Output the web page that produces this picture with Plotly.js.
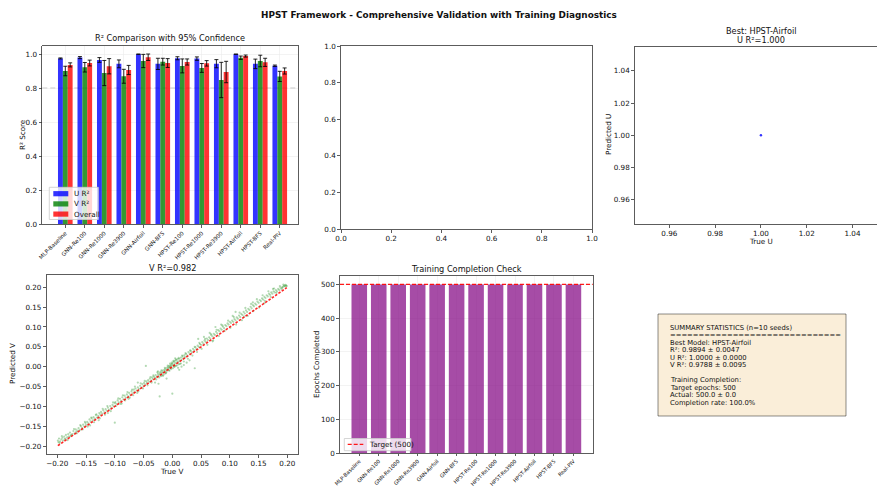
<!DOCTYPE html>
<html>
<head>
<meta charset="utf-8">
<script src="https://cdn.plot.ly/plotly-3.0.1.min.js"></script>
<style>html,body{margin:0;padding:0;background:#fff;}#chart{width:877px;height:486px;}</style>
</head>
<body>
<div id="chart"></div>
<script>
// ---------------- DATA ----------------
const categories = ['MLP-Baseline','GNN-Re100','GNN-Re1000','GNN-Re3900','GNN-Airfoil','GNN-BFS','HPST-Re100','HPST-Re1000','HPST-Re3900','HPST-Airfoil','HPST-BFS','Real-PIV'];
const uR2       = [0.975,0.980,0.966,0.943,1.000,0.943,0.976,0.974,0.944,1.000,0.943,0.932];
const uErr      = [0.003,0.006,0.014,0.023,0.001,0.033,0.009,0.010,0.024,0.000,0.028,0.004];
const vR2       = [0.901,0.923,0.889,0.870,0.960,0.956,0.931,0.919,0.848,0.979,0.960,0.869];
const vErr      = [0.028,0.028,0.074,0.041,0.039,0.020,0.041,0.026,0.104,0.010,0.034,0.030];
const overallR2 = [0.937,0.948,0.929,0.907,0.982,0.948,0.954,0.946,0.895,0.989,0.952,0.901];
const overallErr= [0.012,0.017,0.045,0.027,0.019,0.026,0.018,0.016,0.063,0.006,0.024,0.018];
const r2Threshold = 0.8;
const r2SeriesNames = ['U R²', 'V R²', 'Overall'];

const epochsCompleted = [500,500,500,500,500,500,500,500,500,500,500,500];
const targetEpochs = 500;

const bestTrueU = [1.0];
const bestPredU = [1.0];

const trueV = [
-0.199,-0.198,-0.197,-0.195,-0.193,-0.191,-0.190,-0.188,-0.186,-0.185,-0.183,-0.181,-0.180,-0.178,-0.176,-0.174,-0.172,-0.170,-0.168,-0.167,-0.165,-0.163,-0.161,-0.159,-0.157,-0.155,-0.153,-0.151,-0.150,
-0.148,-0.146,-0.144,-0.142,-0.140,-0.138,-0.137,-0.135,-0.133,-0.131,-0.129,-0.127,-0.125,-0.124,-0.122,-0.120,-0.118,-0.116,-0.114,-0.112,-0.110,-0.108,-0.106,-0.104,-0.102,-0.100,-0.128,-0.112,-0.143,-0.100,
-0.099,-0.097,-0.095,-0.093,-0.091,-0.089,-0.087,-0.085,-0.083,-0.081,-0.079,-0.077,-0.075,-0.073,-0.071,-0.069,-0.067,-0.066,-0.064,-0.062,-0.060,-0.058,-0.056,-0.054,-0.052,-0.050,-0.076,-0.061,-0.088,
-0.049,-0.047,-0.045,-0.044,-0.042,-0.040,-0.039,-0.037,-0.035,-0.034,-0.032,-0.030,-0.029,-0.027,-0.025,-0.024,-0.022,-0.021,-0.020,-0.018,-0.017,-0.016,-0.014,-0.013,-0.012,-0.010,-0.009,-0.008,-0.007,-0.006,-0.005,-0.004,-0.003,-0.002,-0.001,-0.020,-0.015,-0.010,-0.025,-0.018,-0.046,-0.022,-0.030,-0.012,-0.006,-0.003,
0.000,0.001,0.002,0.003,0.004,0.005,0.006,0.007,0.008,0.009,0.010,0.011,0.012,0.013,0.015,0.016,0.018,0.019,0.021,0.022,0.024,0.026,0.028,0.030,0.032,0.034,0.036,0.038,0.040,0.042,0.044,0.046,0.048,0.050,0.000,0.010,0.020,0.030,0.005,0.003,0.015,0.039,
0.052,0.054,0.056,0.058,0.060,0.062,0.064,0.066,0.068,0.070,0.072,0.074,0.076,0.078,0.080,0.082,0.084,0.086,0.088,0.090,0.092,0.094,0.096,0.098,0.100,0.055,0.070,0.085,0.065,
0.102,0.104,0.106,0.108,0.110,0.112,0.114,0.116,0.118,0.120,0.122,0.124,0.126,0.128,0.130,0.132,0.134,0.136,0.138,0.140,0.142,0.144,0.146,0.148,0.150,0.105,0.125,0.140,
0.152,0.154,0.156,0.158,0.160,0.162,0.164,0.166,0.168,0.170,0.172,0.174,0.176,0.178,0.180,0.182,0.184,0.186,0.188,0.190,0.192,0.194,0.195,0.196,0.197,0.198,0.199,0.160,0.175,
-0.196,-0.192,-0.187,-0.182,-0.177,-0.171,-0.166,-0.160,-0.156,-0.152,-0.147,-0.141,-0.136,-0.132,-0.126,-0.121,-0.117,-0.113,-0.107,-0.103,-0.098,-0.094,-0.090,-0.086,-0.082,-0.078,-0.074,-0.070,-0.068,-0.065,
-0.059,-0.055,-0.051,-0.048,-0.043,-0.038,-0.036,-0.033,-0.028,-0.026,-0.023,-0.019,-0.016,-0.013,-0.011,-0.008,-0.005,-0.004,-0.002,-0.001,0.001,0.002,0.004,0.006,0.008,0.011,0.013,0.017,0.020,0.023,
0.027,0.031,0.035,0.039,0.043,0.047,0.051,0.057,0.061,0.067,0.071,0.077,0.081,0.087,0.091,0.097,0.101,0.107,0.111,0.117,0.121,0.127,0.131,0.137,0.141,0.147,0.151,0.157,0.161,0.167,
0.171,0.177,0.181,0.187,0.191,0.193,-0.024,-0.010,0.016,0.025,0.012,-0.060,0.045,0.110,0.075
];
const predV = [
-0.186,-0.190,-0.181,-0.188,-0.183,-0.179,-0.186,-0.176,-0.181,-0.172,-0.178,-0.170,-0.176,-0.166,-0.172,-0.170,-0.162,-0.168,-0.158,-0.164,-0.161,-0.155,-0.160,-0.150,-0.154,-0.146,-0.151,-0.142,-0.147,
-0.139,-0.143,-0.133,-0.138,-0.130,-0.135,-0.127,-0.131,-0.122,-0.128,-0.124,-0.117,-0.121,-0.114,-0.118,-0.110,-0.115,-0.107,-0.111,-0.103,-0.108,-0.099,-0.104,-0.096,-0.100,-0.092,-0.135,-0.117,-0.148,-0.141,
-0.089,-0.094,-0.085,-0.090,-0.081,-0.086,-0.077,-0.082,-0.073,-0.078,-0.070,-0.075,-0.066,-0.071,-0.062,-0.067,-0.058,-0.064,-0.055,-0.060,-0.052,-0.056,-0.048,-0.053,-0.044,-0.049,-0.081,-0.066,-0.093,
-0.041,-0.045,-0.037,-0.041,-0.034,-0.038,-0.030,-0.035,-0.027,-0.031,-0.025,-0.028,-0.021,-0.025,-0.018,-0.022,-0.015,-0.019,-0.013,-0.016,-0.010,-0.014,-0.008,-0.011,-0.005,-0.008,-0.002,-0.006,0.000,-0.003,0.002,-0.001,0.004,0.001,0.006,-0.024,-0.020,-0.013,-0.012,-0.022,0.002,-0.075,-0.040,-0.017,-0.009,-0.004,
0.008,0.003,0.012,0.005,0.014,0.009,0.002,0.016,0.010,0.019,0.013,0.006,0.020,0.015,0.023,0.017,0.026,0.021,0.029,0.024,0.032,0.028,0.037,0.033,0.040,0.036,0.045,0.041,0.049,0.045,0.053,0.050,0.057,0.055,-0.068,-0.003,0.004,0.016,0.021,0.000,0.008,-0.004,
0.062,0.058,0.066,0.063,0.071,0.067,0.074,0.071,0.079,0.076,0.083,0.080,0.088,0.084,0.092,0.089,0.096,0.093,0.101,0.097,0.105,0.102,0.109,0.106,0.113,0.075,0.064,0.106,0.085,
0.110,0.116,0.113,0.120,0.117,0.124,0.121,0.129,0.125,0.133,0.130,0.138,0.134,0.142,0.138,0.146,0.143,0.151,0.147,0.155,0.152,0.159,0.156,0.164,0.161,0.128,0.126,0.162,
0.168,0.165,0.172,0.169,0.176,0.173,0.180,0.177,0.184,0.181,0.187,0.184,0.190,0.187,0.193,0.190,0.196,0.193,0.199,0.196,0.201,0.203,0.205,0.202,0.206,0.204,0.203,0.160,0.196,
-0.192,-0.175,-0.183,-0.185,-0.175,-0.157,-0.168,-0.147,-0.158,-0.139,-0.151,-0.128,-0.140,-0.120,-0.130,-0.106,-0.121,-0.099,-0.112,-0.090,-0.099,-0.080,-0.094,-0.072,-0.085,-0.064,-0.078,-0.058,-0.072,-0.050,
-0.062,-0.042,-0.055,-0.036,-0.047,-0.026,-0.040,-0.022,-0.032,-0.014,-0.027,-0.009,-0.023,-0.003,-0.016,0.003,-0.010,0.008,-0.006,0.010,-0.004,0.015,0.000,0.018,0.003,0.022,0.007,0.028,0.013,0.034,
0.020,0.041,0.028,0.050,0.037,0.060,0.045,0.070,0.055,0.082,0.066,0.093,0.077,0.104,0.090,0.116,0.098,0.125,0.106,0.136,0.117,0.148,0.128,0.158,0.140,0.170,0.149,0.180,0.166,0.190,
0.176,0.197,0.186,0.203,0.199,0.207,-0.043,-0.030,0.000,0.010,-0.008,-0.040,0.070,0.138,0.100
];

const figureTitle = 'HPST Framework - Comprehensive Validation with Training Diagnostics';
const summaryLines = [
  'SUMMARY STATISTICS (n=10 seeds)',
  '==============================',
  'Best Model: HPST-Airfoil',
  'R²: 0.9894 ± 0.0047',
  'U R²: 1.0000 ± 0.0000',
  'V R²: 0.9788 ± 0.0095',
  '',
  'Training Completion:',
  'Target epochs: 500',
  'Actual: 500.0 ± 0.0',
  'Completion rate: 100.0%'
];

// ---------------- LAYOUT HELPERS ----------------
const W = 877, H = 486;
const FONT = 'DejaVu Sans, Liberation Sans, sans-serif';
const px = p => p / W;
const py = p => 1 - p / H;
const idx = categories.map((_, i) => i);

const gridC = '#ebebeb';
const lineC = '#333333';
function axisBase(extra) {
  return Object.assign({
    showline: true, mirror: true, linecolor: lineC, linewidth: 0.8,
    ticks: 'outside', ticklen: 3, tickwidth: 0.8, tickcolor: lineC,
    tickfont: {family: FONT, size: 7.2, color: '#111'},
    showgrid: false, zeroline: false, fixedrange: true
  }, extra);
}

const errStyle = arr => ({type: 'data', array: arr, visible: true, color: 'rgba(0,0,0,0.85)', thickness: 1, width: 2});
const r2Colors = ['rgba(0,0,255,0.8)', 'rgba(0,128,0,0.8)', 'rgba(255,0,0,0.8)'];

const traces = [
  {type: 'bar', x: idx, y: uR2, name: r2SeriesNames[0], marker: {color: r2Colors[0]}, error_y: errStyle(uErr), xaxis: 'x', yaxis: 'y'},
  {type: 'bar', x: idx, y: vR2, name: r2SeriesNames[1], marker: {color: r2Colors[1]}, error_y: errStyle(vErr), xaxis: 'x', yaxis: 'y'},
  {type: 'bar', x: idx, y: overallR2, name: r2SeriesNames[2], marker: {color: r2Colors[2]}, error_y: errStyle(overallErr), xaxis: 'x', yaxis: 'y'},
  {type: 'scatter', mode: 'markers', x: [], y: [], xaxis: 'x2', yaxis: 'y2', hoverinfo: 'skip'},
  {type: 'scatter', mode: 'markers', x: bestTrueU, y: bestPredU, marker: {color: 'rgba(0,0,255,0.8)', size: 2.5}, xaxis: 'x3', yaxis: 'y3'},
  {type: 'scatter', mode: 'markers', x: trueV, y: predV, marker: {color: 'rgba(0,128,0,0.3)', size: 2.2}, xaxis: 'x4', yaxis: 'y4'},
  {type: 'scatter', mode: 'lines', x: [Math.min(...trueV), Math.max(...trueV)], y: [Math.min(...trueV), Math.max(...trueV)], line: {color: 'rgba(255,0,0,0.85)', width: 1.6, dash: '2.5px,1.5px'}, xaxis: 'x4', yaxis: 'y4'},
  {type: 'bar', x: idx, y: epochsCompleted, width: 0.8, marker: {color: 'rgba(128,0,128,0.7)'}, xaxis: 'x5', yaxis: 'y5'}
];

function title(text, xc, yc, size, bold) {
  return {text: bold ? '<b>' + text + '</b>' : text, x: px(xc), y: py(yc), xref: 'paper', yref: 'paper',
    xanchor: 'center', yanchor: 'middle', showarrow: false, font: {family: FONT, size: size, color: '#111'}};
}
function vtitle(text, xc, yc) {
  return {text: text, x: px(xc), y: py(yc), xref: 'paper', yref: 'paper', textangle: -90,
    xanchor: 'center', yanchor: 'middle', showarrow: false, font: {family: FONT, size: 7.2, color: '#111'}};
}
function leftText(text, xl, yc, size) {
  return {text: text, x: px(xl), y: py(yc), xref: 'paper', yref: 'paper',
    xanchor: 'left', yanchor: 'middle', showarrow: false, font: {family: FONT, size: size, color: '#111'}};
}

const annotations = [
  title(figureTitle, 438.5, 15, 8.9, true),
  title('R² Comparison with 95% Confidence', 170, 38, 8.2),
  title('Best: HPST-Airfoil', 761, 30.5, 8.2),
  title('U R²=1.000', 761, 40, 8.2),
  title('V R²=0.982', 172, 268, 8.2),
  title('Training Completion Check', 466, 269, 8.2),
  vtitle('R² Score', 22, 135),
  title('True U', 761, 241, 7.2),
  vtitle('Predicted U', 608, 135),
  title('True V', 172, 471, 7.2),
  vtitle('Predicted V', 12, 364),
  vtitle('Epochs Completed', 316, 365)
];
summaryLines.forEach((t, i) => {
  if (t) annotations.push(leftText(t, 668, 327.5 + i * 7.5, 6.8));
});

const shapes = [
  {type: 'line', xref: 'x domain', yref: 'y', x0: 0, x1: 1, y0: r2Threshold, y1: r2Threshold,
   line: {color: 'rgba(128,128,128,0.6)', width: 1, dash: '5px,3px'}, layer: 'below'},
  {type: 'line', xref: 'x5 domain', yref: 'y5', x0: 0, x1: 1, y0: targetEpochs, y1: targetEpochs,
   line: {color: 'rgba(255,0,0,0.9)', width: 1.2, dash: '4px,2px'}},
  {type: 'rect', xref: 'paper', yref: 'paper', x0: px(658), x1: px(846), y0: py(416), y1: py(314),
   fillcolor: 'rgba(245,222,179,0.5)', line: {color: 'rgba(0,0,0,0.45)', width: 1}}
];

// legend for the R² chart (drawn as a matplotlib-style legend box)
shapes.push({type: 'rect', xref: 'paper', yref: 'paper', x0: px(49.3), x1: px(98.3), y0: py(219.5), y1: py(187.3),
  fillcolor: 'rgba(255,255,255,0.8)', line: {color: '#cccccc', width: 0.8}});
r2SeriesNames.forEach((n, i) => {
  const yc = 193.7 + i * 10.2;
  shapes.push({type: 'rect', xref: 'paper', yref: 'paper', x0: px(53.3), x1: px(68.3), y0: py(yc + 2.6), y1: py(yc - 2.6),
    fillcolor: r2Colors[i], line: {width: 0}});
  annotations.push(leftText(n, 71.5, yc, 7.2));
});
// legend for the epochs chart
const targetLabel = 'Target (' + targetEpochs + ')';
shapes.push({type: 'rect', xref: 'paper', yref: 'paper', x0: px(344.3), x1: px(411), y0: py(450.7), y1: py(438.5),
  fillcolor: 'rgba(255,255,255,0.8)', line: {color: '#cccccc', width: 0.8}});
shapes.push({type: 'line', xref: 'paper', yref: 'paper', x0: px(347.7), x1: px(363.3), y0: py(444.3), y1: py(444.3),
  line: {color: 'rgba(255,0,0,0.9)', width: 1.2, dash: '4px,2px'}});
annotations.push(leftText(targetLabel, 366.5, 444.3, 7.2));

const catTickFont = {family: FONT, size: 5.6, color: '#111'};
const catTickFontBottom = {family: FONT, size: 5.2, color: '#111'};

const layout = {
  width: W, height: H, autosize: false,
  margin: {l: 0, r: 0, t: 0, b: 0, pad: 0},
  paper_bgcolor: '#fff', plot_bgcolor: '#fff',
  font: {family: FONT, color: '#111'},
  barmode: 'group', bargap: 0.25, bargroupgap: 0,
  showlegend: false,
  xaxis: axisBase({domain: [px(42.3), px(297.7)], range: [-1.18, 11.92], tickvals: idx, ticktext: categories, tickangle: -45, tickfont: catTickFont, showgrid: true, gridcolor: gridC, gridwidth: 0.6, anchor: 'y'}),
  yaxis: axisBase({domain: [py(224), py(45.7)], range: [0, 1.05], tickvals: [0,0.2,0.4,0.6,0.8,1.0], tickformat: '.1f', showgrid: true, gridcolor: gridC, gridwidth: 0.6, anchor: 'x'}),
  xaxis2: axisBase({domain: [px(341), px(592)], range: [0, 1], tickvals: [0,0.2,0.4,0.6,0.8,1.0], tickformat: '.1f', anchor: 'y2'}),
  yaxis2: axisBase({domain: [py(229), py(46)], range: [0, 1], tickvals: [0,0.2,0.4,0.6,0.8,1.0], tickformat: '.1f', anchor: 'x2'}),
  xaxis3: axisBase({domain: [px(635), 1], range: [0.945, 1.0507], tickvals: [0.96,0.98,1.0,1.02,1.04], tickformat: '.2f', anchor: 'y3'}),
  yaxis3: axisBase({domain: [py(224), py(46.7)], range: [0.945, 1.055], tickvals: [0.96,0.98,1.0,1.02,1.04], tickformat: '.2f', mirror: false, anchor: 'x3'}),
  xaxis4: axisBase({domain: [px(46.7), px(297.7)], range: [-0.2184, 0.218], tickvals: [-0.2,-0.15,-0.1,-0.05,0,0.05,0.1,0.15,0.2], tickformat: '.2f', anchor: 'y4'}),
  yaxis4: axisBase({domain: [py(454), py(275)], range: [-0.220, 0.231], tickvals: [-0.2,-0.15,-0.1,-0.05,0,0.05,0.1,0.15,0.2], tickformat: '.2f', anchor: 'x4'}),
  xaxis5: axisBase({domain: [px(340), px(592.7)], range: [-0.99, 11.99], tickvals: idx, ticktext: categories, tickangle: -45, tickfont: catTickFontBottom, ticklen: 2.5, showgrid: true, gridcolor: gridC, gridwidth: 0.6, anchor: 'y5'}),
  yaxis5: axisBase({domain: [py(453), py(276)], range: [0, 525], tickvals: [0,100,200,300,400,500], showgrid: true, gridcolor: gridC, gridwidth: 0.6, anchor: 'x5'}),
  annotations: annotations,
  shapes: shapes
};

Plotly.newPlot('chart', traces, layout, {staticPlot: true, displayModeBar: false});
</script>
</body>
</html>
